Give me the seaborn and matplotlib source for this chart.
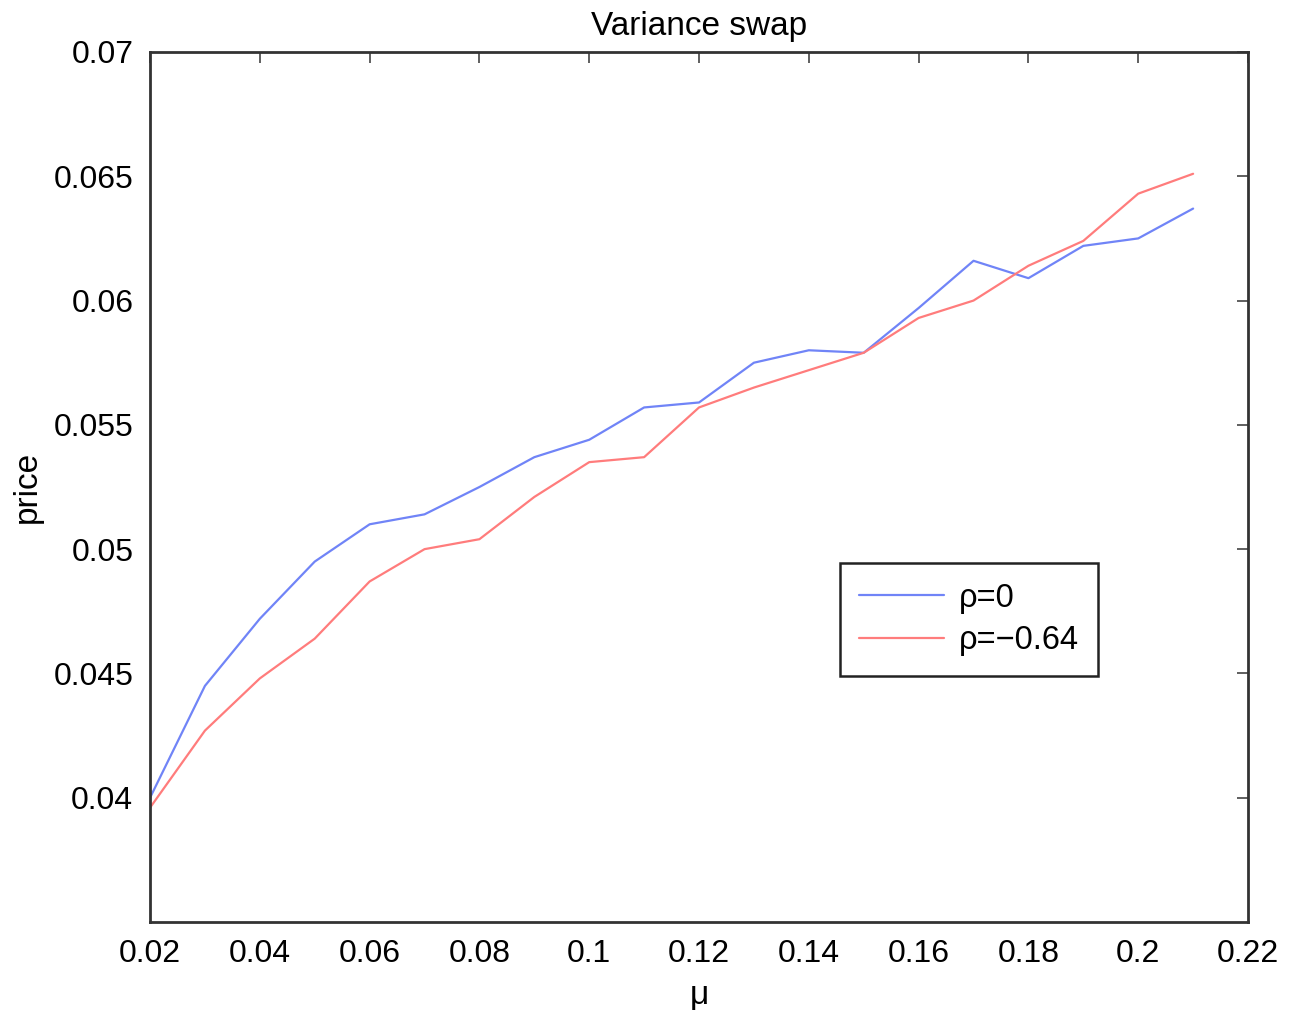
import numpy as np
import pandas as pd
import matplotlib
matplotlib.use("Agg")
import matplotlib.pyplot as plt
import seaborn as sns

# --- data ---
mu = [0.02, 0.03, 0.04, 0.05, 0.06, 0.07, 0.08, 0.09, 0.10, 0.11,
      0.12, 0.13, 0.14, 0.15, 0.16, 0.17, 0.18, 0.19, 0.20, 0.21]
price_rho0 = [0.0400, 0.0445, 0.0472, 0.0495, 0.0510, 0.0514, 0.0525, 0.0537, 0.0544, 0.0557,
              0.0559, 0.0575, 0.0580, 0.0579, 0.0597, 0.0616, 0.0609, 0.0622, 0.0625, 0.0637]
price_rho064 = [0.0396, 0.0427, 0.0448, 0.0464, 0.0487, 0.0500, 0.0504, 0.0521, 0.0535, 0.0537,
                0.0557, 0.0565, 0.0572, 0.0579, 0.0593, 0.0600, 0.0614, 0.0624, 0.0643, 0.0651]
series_labels = ["ρ=0", "ρ=\u22120.64"]
xticks = [0.02, 0.04, 0.06, 0.08, 0.10, 0.12, 0.14, 0.16, 0.18, 0.20, 0.22]
yticks = [0.04, 0.045, 0.05, 0.055, 0.06, 0.065, 0.07]

COLORS = {series_labels[0]: "#7084f7", series_labels[1]: "#ff7c7c"}

df = pd.DataFrame({
    "mu": mu * 2,
    "price": price_rho0 + price_rho064,
    "series": [series_labels[0]] * len(mu) + [series_labels[1]] * len(mu),
})

sns.set_style("white")
plt.rcParams["font.family"] = ["Liberation Sans", "DejaVu Sans"]
plt.rcParams["text.color"] = "black"
plt.rcParams["axes.labelcolor"] = "black"
plt.rcParams["xtick.color"] = "black"
plt.rcParams["ytick.color"] = "black"

fig = plt.figure(figsize=(12.89, 10.13), dpi=100)
ax = fig.add_axes([0.1164, 0.0898, 0.8518, 0.8589])

sns.lineplot(data=df, x="mu", y="price", hue="series", palette=COLORS,
             linewidth=1.6, ax=ax, legend=True)

ax.set_xlim(0.02, 0.22)
ax.set_ylim(0.035, 0.07)
ax.set_xticks(xticks)
ax.set_yticks(yticks)
fmt = plt.FuncFormatter(lambda v, p: f"{v:g}")
ax.xaxis.set_major_formatter(fmt)
ax.yaxis.set_major_formatter(fmt)
ax.tick_params(direction="in", length=8, width=1.2, labelsize=23, color="#444444",
               top=True, right=True, pad=12)

for s in ax.spines.values():
    s.set_visible(True)
    s.set_color("#333333")
    s.set_linewidth(2)

ax.set_title("Variance swap", fontsize=24, pad=12)
ax.set_xlabel("μ", fontsize=24, labelpad=8)
ax.set_ylabel("price", fontsize=24, labelpad=8)

leg = ax.legend(loc="upper left", bbox_to_anchor=(0.628, 0.4126), borderaxespad=0,
                fontsize=23.5, frameon=True, fancybox=False, framealpha=1,
                edgecolor="#222222", handlelength=2.6, handletextpad=0.45,
                borderpad=0.6, labelspacing=0.35)
leg.get_frame().set_linewidth(1.8)

fig.savefig("out.png", dpi=100)
